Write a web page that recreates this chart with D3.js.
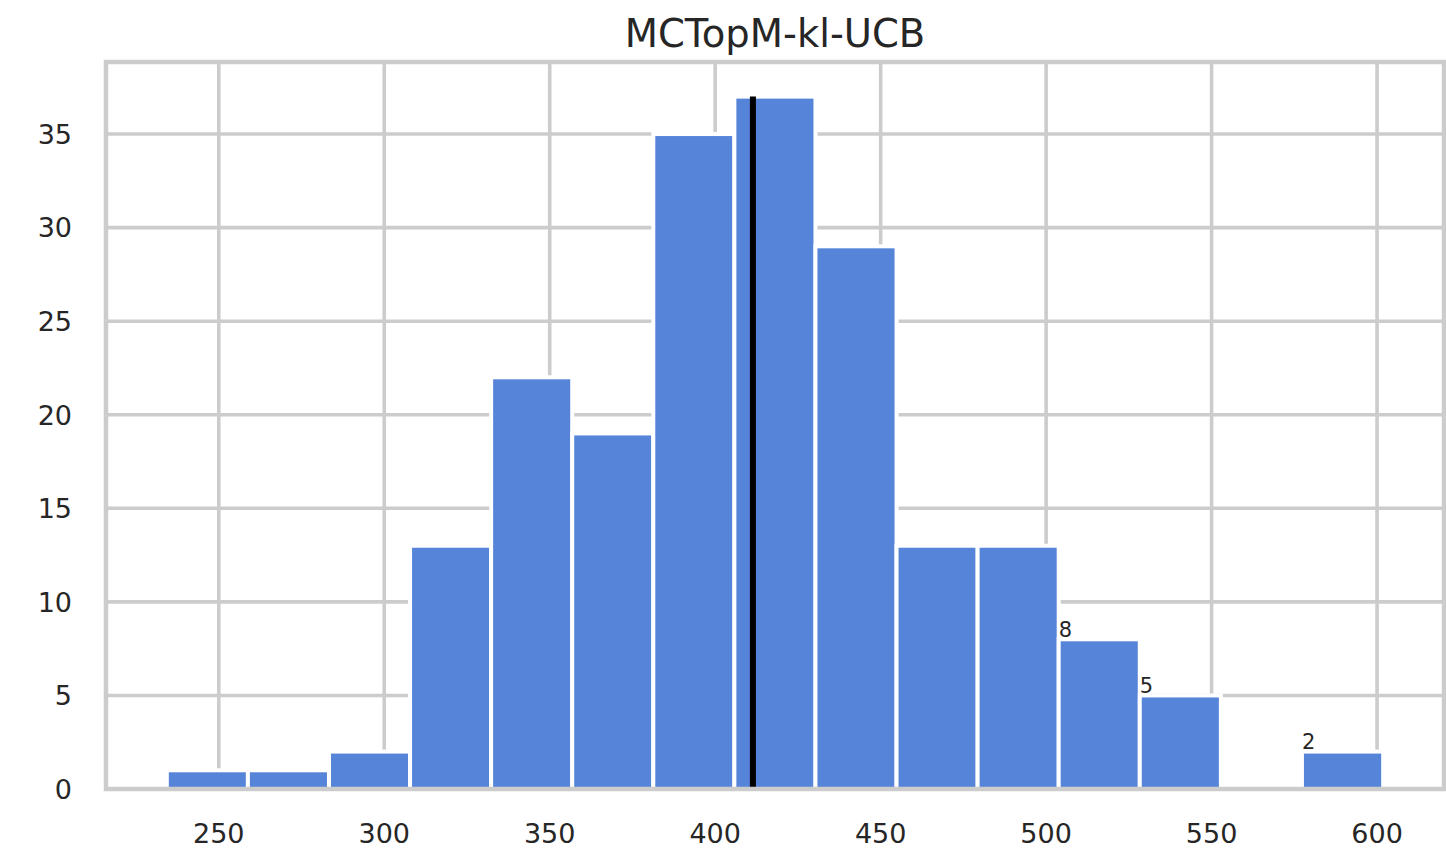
<!DOCTYPE html>
<html><head><meta charset="utf-8">
<script src="https://cdn.jsdelivr.net/npm/d3@7"></script>
<style>html,body{margin:0;padding:0;background:#fff;}svg{display:block;font-family:"DejaVu Sans",sans-serif;}</style>
</head><body><svg id="c" width="1446" height="851"></svg>
<script>
const title = "MCTopM-kl-UCB";
const binEdges = [234.3, 258.8, 283.3, 307.8, 332.3, 356.8, 381.3, 405.8, 430.3, 454.8, 479.3, 503.8, 528.3, 552.8, 577.3, 601.85];
const counts = [1, 1, 2, 13, 22, 19, 35, 37, 29, 13, 13, 8, 5, 0, 2];
const labeledBins = [11, 12, 14];
const meanValue = 411.4;
const xTicks = [250, 300, 350, 400, 450, 500, 550, 600];
const yTicks = [0, 5, 10, 15, 20, 25, 30, 35];

const svg = d3.select("#c");
const m = {l:106, r:1444, t:62, b:789};
const span = binEdges[binEdges.length-1]-binEdges[0];
const x = d3.scaleLinear().domain([binEdges[0]-0.05*span, binEdges[binEdges.length-1]+0.05*span]).range([m.l, m.r]);
const ymax = d3.max(counts)*1.05;
const y = d3.scaleLinear().domain([0, ymax]).range([m.b, m.t]);
const grid = "#cccccc", txt = "#262626";

// gridlines
const g = svg.append("g");
g.selectAll("line.gx").data(xTicks).join("line")
  .attr("x1", d=>x(d)).attr("x2", d=>x(d)).attr("y1", m.t).attr("y2", m.b)
  .attr("stroke", grid).attr("stroke-width", 3.6);
g.selectAll("line.gy").data(yTicks).join("line")
  .attr("y1", d=>y(d)).attr("y2", d=>y(d)).attr("x1", m.l).attr("x2", m.r)
  .attr("stroke", grid).attr("stroke-width", 3.6);

// bars
const bins = counts.map((c,i)=>({c, x0:binEdges[i], x1:binEdges[i+1], i}));
svg.append("g").selectAll("rect").data(bins.filter(d=>d.c>0)).join("rect")
  .attr("x", d=>x(d.x0)).attr("width", d=>x(d.x1)-x(d.x0))
  .attr("y", d=>y(d.c)).attr("height", d=>y(0)-y(d.c))
  .attr("fill", "#5584d9").attr("stroke", "#fff").attr("stroke-width", 4);

// mean line
svg.append("line").attr("x1", x(meanValue)).attr("x2", x(meanValue))
  .attr("y1", y(0)).attr("y2", y(d3.max(counts)))
  .attr("stroke", "#000").attr("stroke-width", 6);

// count labels
svg.append("g").selectAll("text").data(labeledBins.map(i=>bins[i])).join("text")
  .attr("x", d=>x(d.x0)).attr("y", d=>y(d.c)-2.5)
  .attr("font-size", 21).attr("fill", txt).text(d=>d.c);

// spines
svg.append("rect").attr("x", m.l).attr("y", m.t).attr("width", m.r-m.l).attr("height", m.b-m.t)
  .attr("fill", "none").attr("stroke", grid).attr("stroke-width", 4.5);

// tick labels
svg.append("g").selectAll("text").data(xTicks).join("text")
  .attr("x", d=>x(d)).attr("y", 843.3).attr("text-anchor", "middle")
  .attr("font-size", 27).attr("fill", txt).text(d=>d);
svg.append("g").selectAll("text").data(yTicks).join("text")
  .attr("x", 72).attr("y", d=>y(d)+9.8).attr("text-anchor", "end")
  .attr("font-size", 27).attr("fill", txt).text(d=>d);

svg.append("text").attr("x", (m.l+m.r)/2).attr("y", 46.7).attr("text-anchor", "middle")
  .attr("font-size", 38.5).attr("fill", txt).text(title);
</script></body></html>
